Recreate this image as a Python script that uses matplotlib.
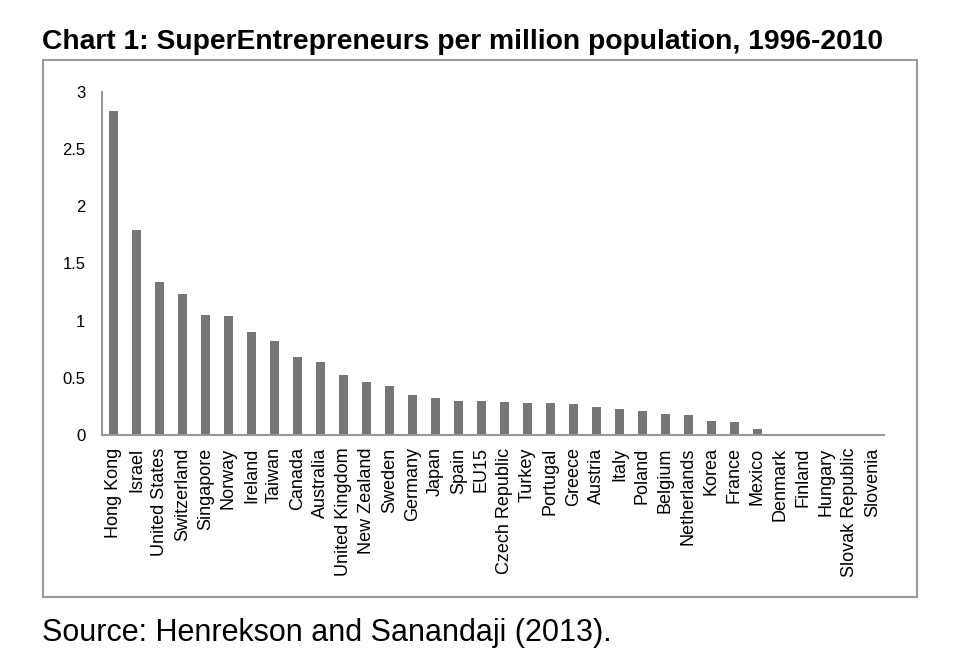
import numpy as np
import matplotlib.pyplot as plt
from matplotlib.patches import Rectangle

countries = ["Hong Kong", "Israel", "United States", "Switzerland", "Singapore",
             "Norway", "Ireland", "Taiwan", "Canada", "Australia",
             "United Kingdom", "New Zealand", "Sweden", "Germany", "Japan",
             "Spain", "EU15", "Czech Republic", "Turkey", "Portugal",
             "Greece", "Austria", "Italy", "Poland", "Belgium",
             "Netherlands", "Korea", "France", "Mexico", "Denmark",
             "Finland", "Hungary", "Slovak Republic", "Slovenia"]
values = [2.83, 1.79, 1.34, 1.23, 1.05,
          1.04, 0.90, 0.82, 0.68, 0.64,
          0.52, 0.46, 0.43, 0.35, 0.32,
          0.30, 0.295, 0.285, 0.28, 0.28,
          0.27, 0.24, 0.23, 0.21, 0.18,
          0.175, 0.12, 0.11, 0.05, 0.0,
          0.0, 0.0, 0.0, 0.0]
yticks = [0, 0.5, 1, 1.5, 2, 2.5, 3]
ytick_labels = ["0", "0.5", "1", "1.5", "2", "2.5", "3"]

plt.rcParams['font.family'] = ['Liberation Sans', 'DejaVu Sans']

fig = plt.figure(figsize=(9.67, 6.57), dpi=100)

# outer frame round the chart
fig.patches.append(Rectangle((0.0445, 0.092), 0.904, 0.817, transform=fig.transFigure,
                             fill=False, edgecolor='#999999', linewidth=1.5))

ax = fig.add_axes([0.1055, 0.338, 0.8085, 0.5225])
x = np.arange(len(countries))
ax.bar(x, values, width=0.42, color='#767676')

ax.set_xlim(-0.5, len(countries) - 0.5)
ax.set_ylim(0, 3)
ax.set_yticks(yticks)
ax.set_yticklabels(ytick_labels)
ax.set_xticks(x)
ax.set_xticklabels(countries, rotation=90, va='top', ha='center')
ax.tick_params(axis='y', length=0, pad=12, labelsize=12)
ax.tick_params(axis='x', length=0, pad=9, labelsize=13)

for side in ['top', 'right']:
    ax.spines[side].set_visible(False)
for side in ['left', 'bottom']:
    ax.spines[side].set_color('#999999')
    ax.spines[side].set_linewidth(1.5)

fig.text(0.0434, 0.9254, "Chart 1: SuperEntrepreneurs per million population, 1996-2010",
         fontsize=20.3, fontweight='bold', va='baseline', ha='left')
fig.text(0.0434, 0.0245, "Source: Henrekson and Sanandaji (2013).",
         fontsize=22, va='baseline', ha='left')

fig.savefig("out.png", dpi=100)
